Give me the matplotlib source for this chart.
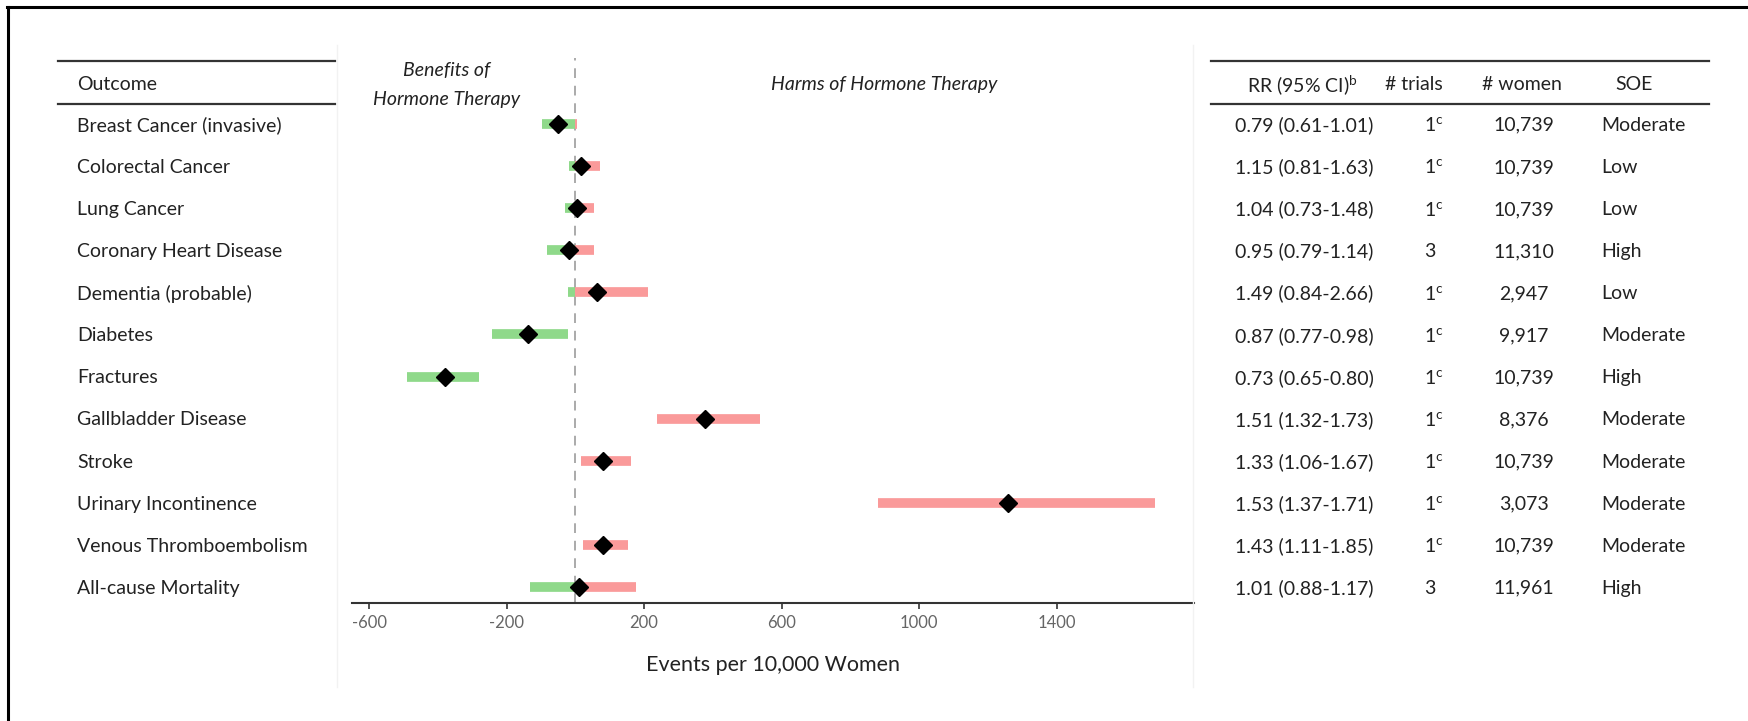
import numpy as np
import matplotlib.pyplot as plt
from matplotlib.lines import Line2D
from matplotlib import transforms

plt.rcParams['font.family'] = ['Lato', 'DejaVu Sans']
plt.rcParams['mathtext.fontset'] = 'custom'
plt.rcParams['mathtext.rm'] = 'Lato'
plt.rcParams['mathtext.it'] = 'Lato:italic'
plt.rcParams['axes.unicode_minus'] = False

# data
outcomes = ['Breast Cancer (invasive)', 'Colorectal Cancer', 'Lung Cancer',
            'Coronary Heart Disease', 'Dementia (probable)', 'Diabetes',
            'Fractures', 'Gallbladder Disease', 'Stroke',
            'Urinary Incontinence', 'Venous Thromboembolism', 'All-cause Mortality']
est = [-52, 15, 4, -20, 62, -137, -380, 378, 79, 1260, 79, 11]
lo = [-98, -20, -30, -82, -21, -244, -491, 238, 16, 881, 21, -133]
hi = [4, 72, 53, 53, 211, -22, -281, 538, 161, 1687, 153, 176]
rr = ['0.79 (0.61-1.01)', '1.15 (0.81-1.63)', '1.04 (0.73-1.48)', '0.95 (0.79-1.14)',
      '1.49 (0.84-2.66)', '0.87 (0.77-0.98)', '0.73 (0.65-0.80)', '1.51 (1.32-1.73)',
      '1.33 (1.06-1.67)', '1.53 (1.37-1.71)', '1.43 (1.11-1.85)', '1.01 (0.88-1.17)']
trials = ['1$^{\\mathrm{c}}$', '1$^{\\mathrm{c}}$', '1$^{\\mathrm{c}}$', '3',
          '1$^{\\mathrm{c}}$', '1$^{\\mathrm{c}}$', '1$^{\\mathrm{c}}$', '1$^{\\mathrm{c}}$',
          '1$^{\\mathrm{c}}$', '1$^{\\mathrm{c}}$', '1$^{\\mathrm{c}}$', '3']
women = ['10,739', '10,739', '10,739', '11,310', '2,947', '9,917', '10,739',
         '8,376', '10,739', '3,073', '10,739', '11,961']
soe = ['Moderate', 'Low', 'Low', 'High', 'Low', 'Moderate', 'High', 'Moderate',
       'Moderate', 'Moderate', 'Moderate', 'High']
xticks = [-600, -200, 200, 600, 1000, 1400]

W, H = 1749, 721
GREEN = '#8fd98a'
RED = '#fa9a9a'
TXT = '#222222'

def fx(px):
    return px / W

def fy(py):
    return 1 - py / H

fig = plt.figure(figsize=(W / 100, H / 100), dpi=100)
ax = fig.add_axes([fx(352), fy(603), fx(1194) - fx(352), fy(58) - fy(603)])

y = np.arange(len(outcomes))
lo_a = np.array(lo)
hi_a = np.array(hi)
neg_hi = np.minimum(hi_a, 0)
pos_lo = np.maximum(lo_a, 0)
m = lo_a < 0
ax.hlines(y[m], lo_a[m], neg_hi[m], color=GREEN, lw=7, capstyle='butt', zorder=2)
m = hi_a > 0
ax.hlines(y[m], pos_lo[m], hi_a[m], color=RED, lw=7, capstyle='butt', zorder=2)
ax.axvline(0, color='#aaaaaa', lw=1.4, ls=(0, (5, 4)), zorder=1)
ax.plot(est, y, 'D', color='black', ms=9, zorder=3)

ax.set_xlim(-650, 1800)
ax.set_ylim(11.38, -1.57)
ax.set_xticks(xticks)
ax.set_xticklabels([str(v) for v in xticks])
ax.set_yticks([])
for s in ['top', 'right', 'left']:
    ax.spines[s].set_visible(False)
ax.spines['bottom'].set_color('#333333')
ax.spines['bottom'].set_linewidth(1.5)
ax.tick_params(axis='x', colors='#333333', labelcolor='#666666', labelsize=12,
               length=4, width=1.2, pad=5)
ax.set_xlabel('Events per 10,000 Women', fontsize=15.5, color=TXT, labelpad=17)
ax.patch.set_alpha(0)

ax.text(-376, -0.93, 'Benefits of\nHormone Therapy', ha='center', va='center',
        style='italic', fontsize=14, color=TXT, linespacing=1.8)
ax.text(898, -0.93, 'Harms of Hormone Therapy', ha='center', va='center',
        style='italic', fontsize=14, color=TXT)

# table text uses figure x and data y
tr = transforms.blended_transform_factory(fig.transFigure, ax.transData)
fs = 14
hy = -0.93
fig.text(fx(77), hy, 'Outcome', transform=tr, va='center', fontsize=fs, color=TXT)
fig.text(fx(1302), hy, 'RR (95% CI)$^{\\mathrm{b}}$', transform=tr, ha='center', va='center',
         fontsize=fs, color=TXT)
fig.text(fx(1414), hy, '# trials', transform=tr, ha='center', va='center', fontsize=fs, color=TXT)
fig.text(fx(1522), hy, '# women', transform=tr, ha='center', va='center', fontsize=fs, color=TXT)
fig.text(fx(1634), hy, 'SOE', transform=tr, ha='center', va='center', fontsize=fs, color=TXT)

for i in range(len(outcomes)):
    yy = i + 0.03
    fig.text(fx(77), yy, outcomes[i], transform=tr, va='center', fontsize=fs, color=TXT)
    fig.text(fx(1235), yy, rr[i], transform=tr, va='center', fontsize=fs, color=TXT)
    fig.text(fx(1424), yy, trials[i], transform=tr, va='center', fontsize=fs, color=TXT)
    fig.text(fx(1524), yy, women[i], transform=tr, ha='center', va='center', fontsize=fs, color=TXT)
    fig.text(fx(1601), yy, soe[i], transform=tr, va='center', fontsize=fs, color=TXT)

# table rules
for x0, x1 in [(58, 335), (1211, 1709)]:
    for yy in (61, 104):
        fig.add_artist(Line2D([fx(x0), fx(x1)], [fy(yy), fy(yy)], color='#333333', lw=1.6))

# faint panel edges
for xx in (337, 1193):
    fig.add_artist(Line2D([fx(xx), fx(xx)], [fy(45), fy(687)], color='#f2f2f2', lw=1))

# outer frame (top and left)
fig.add_artist(Line2D([fx(7), 1], [fy(7), fy(7)], color='black', lw=2.2))
fig.add_artist(Line2D([fx(8), fx(8)], [fy(7), 0], color='black', lw=2.2))

fig.savefig('out.png', dpi=100)
